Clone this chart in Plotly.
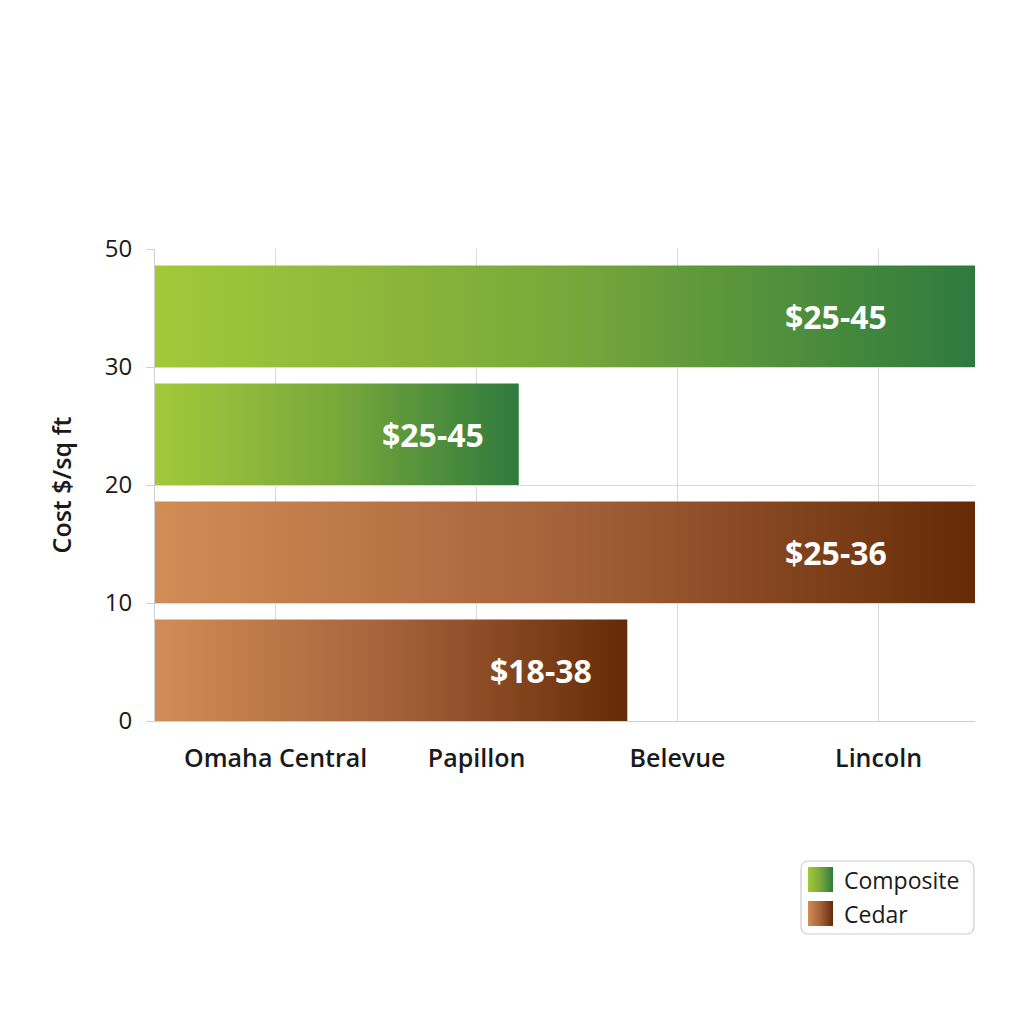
import plotly.graph_objects as go

# -----------------------------
# DATA
# -----------------------------
regions = ["Omaha Central", "Papillon", "Belevue", "Lincoln"]
y_tick_vals = [0, 10, 20, 30, 40]
y_tick_text = ["0", "10", "20", "30", "50"]

bar_series = ["Composite", "Composite", "Cedar", "Cedar"]
bar_floor = [30, 20, 10, 0]          # bottom of each band on the cost axis
bar_height = [8.6, 8.6, 8.6, 8.6]    # band thickness
bar_reach = [3.48, 1.21, 3.48, 1.75] # how far along the region axis each bar runs
bar_labels = ["$25-45", "$25-45", "$25-36", "$18-38"]
legend_names = ["Composite", "Cedar"]

X_MIN, X_MAX = -0.6, 3.48

# -----------------------------
# STYLE / GEOMETRY (pixels of the figure)
# -----------------------------
GRADIENTS = {
    "Composite": [[0, "#a3c93a"], [0.5, "#78a83a"], [1, "#2e7a3e"]],
    "Cedar": [[0, "#d28c55"], [0.5, "#a5623a"], [1, "#652b06"]],
}
FONT = "Open Sans"
W = H = 1024
PLOT_X = (147, 967)
PLOT_Y = (241, 713)
LEG_X = (792, 967)
LEG_Y = (852, 927)


def dom_x(a, b):
    return [a / W, b / W]


def dom_y(a, b):
    return [1 - b / H, 1 - a / H]


fig = go.Figure()

# -----------------------------
# BARS (gradient-filled polygons)
# -----------------------------
for name, y0, h, x1, lab in zip(bar_series, bar_floor, bar_height, bar_reach, bar_labels):
    y1 = y0 + h
    fig.add_trace(go.Scatter(
        x=[X_MIN, x1, x1, X_MIN, X_MIN],
        y=[y0, y0, y1, y1, y0],
        mode="lines",
        fill="toself",
        fillgradient=dict(type="horizontal", colorscale=GRADIENTS[name]),
        line=dict(width=0),
        name=name,
        showlegend=False,
        hoverinfo="skip",
    ))
    full = x1 >= X_MAX
    fig.add_annotation(
        x=x1, y=y0 + h / 2,
        text=f"<b>{lab}</b>",
        showarrow=False,
        xanchor="right",
        xshift=-86 if full else -33,
        font=dict(family=FONT, size=32, color="white"),
    )

# -----------------------------
# LEGEND (drawn by hand so swatches can be gradient squares)
# -----------------------------
shapes = []
lx0, lx1, ly0, ly1, r = 1, 174, 1, 74, 8
shapes.append(dict(
    type="path", xref="x2", yref="y2",
    path=(f"M{lx0 + r},{ly0} L{lx1 - r},{ly0} Q{lx1},{ly0} {lx1},{ly0 + r} "
          f"L{lx1},{ly1 - r} Q{lx1},{ly1} {lx1 - r},{ly1} L{lx0 + r},{ly1} "
          f"Q{lx0},{ly1} {lx0},{ly1 - r} L{lx0},{ly0 + r} Q{lx0},{ly0} {lx0 + r},{ly0} Z"),
    line=dict(color="#cccccc", width=1.2),
    fillcolor="white",
    layer="below",
))
for i, name in enumerate(legend_names):
    sy0 = 7 + i * 34
    fig.add_trace(go.Scatter(
        x=[8, 33, 33, 8, 8],
        y=[sy0, sy0, sy0 + 25, sy0 + 25, sy0],
        xaxis="x2", yaxis="y2",
        mode="lines",
        fill="toself",
        fillgradient=dict(type="horizontal", colorscale=GRADIENTS[name]),
        line=dict(width=0),
        showlegend=False,
        hoverinfo="skip",
    ))
    fig.add_annotation(
        x=42, y=sy0 + 13, xref="x2", yref="y2",
        text=name, showarrow=False, xanchor="left",
        font=dict(family=FONT, size=23, color="#1a1a1a"),
    )

fig.update_layout(
    width=W,
    height=H,
    paper_bgcolor="white",
    plot_bgcolor="white",
    margin=dict(l=0, r=0, t=0, b=0),
    showlegend=False,
    font=dict(family=FONT, color="#1a1a1a"),
    xaxis=dict(
        domain=dom_x(*PLOT_X),
        range=[X_MIN, X_MAX],
        tickvals=list(range(len(regions))),
        ticktext=regions,
        tickfont=dict(size=25, weight=600),
        showgrid=True,
        gridcolor="#d9d9d9",
        gridwidth=1,
        zeroline=False,
        ticks="",
        ticklabelstandoff=15,
        showline=True,
        linecolor="#cfcfcf",
        automargin=False,
        fixedrange=True,
    ),
    yaxis=dict(
        domain=dom_y(*PLOT_Y),
        range=[0, 40],
        tickvals=y_tick_vals,
        ticktext=y_tick_text,
        tickfont=dict(size=24),
        showgrid=True,
        gridcolor="#d9d9d9",
        gridwidth=1,
        zeroline=False,
        ticks="outside",
        ticklen=8,
        tickcolor="#cfcfcf",
        ticklabelstandoff=9,
        showline=True,
        linecolor="#cfcfcf",
        title=dict(text="Cost $/sq ft", font=dict(size=25, weight=600), standoff=25),
        automargin=False,
        fixedrange=True,
    ),
    xaxis2=dict(
        domain=dom_x(*LEG_X), range=[0, LEG_X[1] - LEG_X[0]],
        anchor="y2", visible=False, fixedrange=True, automargin=False,
    ),
    yaxis2=dict(
        domain=dom_y(*LEG_Y), range=[LEG_Y[1] - LEG_Y[0], 0],
        anchor="x2", visible=False, fixedrange=True, automargin=False,
    ),
    shapes=shapes,
)

fig.write_html("out.html")
